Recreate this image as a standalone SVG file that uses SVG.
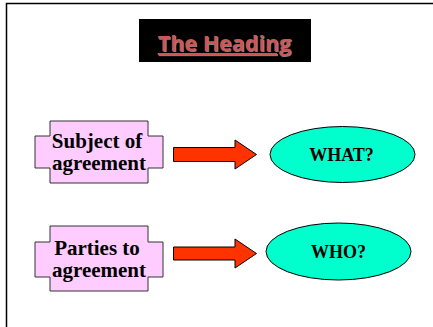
<svg xmlns="http://www.w3.org/2000/svg" width="433" height="327" viewBox="0 0 433 327">
  <style>
    .cross { fill: #FFCCFF; stroke: #333333; stroke-width: 1; }
    .oval { fill: #00FFCC; stroke: #000000; stroke-width: 1; }
    .arrow { fill: #FF3300; stroke: #000000; stroke-width: 1; }
    .lbl { font-family: "Liberation Serif", "Times New Roman", serif; font-weight: bold; font-size: 21px; fill: #000000; text-anchor: middle; }
    .olbl { font-family: "Liberation Serif", "Times New Roman", serif; font-weight: bold; font-size: 18px; fill: #000000; text-anchor: middle; }
    .head { font-family: "Open Sans", "Liberation Sans", Arial, sans-serif; font-weight: bold; font-size: 21.5px; text-anchor: middle; text-decoration: underline; }
  </style>
  <rect x="0" y="0" width="433" height="327" fill="#FFFFFF"/>
  <path d="M6.5,330 V3.5 H440" fill="none" stroke="#000000" stroke-width="1.5"/>

  <g id="heading">
    <rect x="139" y="19" width="172" height="43" fill="#000000"/>
    <text class="head" x="225.5" y="52" fill="#808080">The Heading</text>
    <text class="head" x="224.5" y="51" fill="#CC5555">The Heading</text>
  </g>

  <g id="subject">
    <path class="cross" d="M50,121 H148 V136 H163 V168 H148 V183 H50 V168 H35 V136 H50 Z"/>
    <text class="lbl" x="97" y="148">Subject of</text>
    <text class="lbl" x="99" y="170">agreement</text>
  </g>

  <g id="parties">
    <path class="cross" d="M50,226 H148 V242 H163 V277 H148 V291 H50 V277 H35 V242 H50 Z"/>
    <text class="lbl" x="97" y="255">Parties to</text>
    <text class="lbl" x="99" y="277">agreement</text>
  </g>

  <g id="what">
    <ellipse class="oval" cx="342.5" cy="154.5" rx="72.5" ry="28"/>
    <text class="olbl" x="341.5" y="161">WHAT?</text>
  </g>

  <g id="who">
    <ellipse class="oval" cx="338.5" cy="251.5" rx="72.5" ry="28.5"/>
    <text class="olbl" x="338.5" y="258">WHO?</text>
  </g>

  <g id="connectors">
    <path class="arrow" d="M173.5,147.5 H235 V140 L256.5,154.5 L235,169 V161.5 H173.5 Z"/>
    <path class="arrow" d="M173.5,247 H235 V239 L256.5,253.5 L235,268 V260 H173.5 Z"/>
  </g>
</svg>
